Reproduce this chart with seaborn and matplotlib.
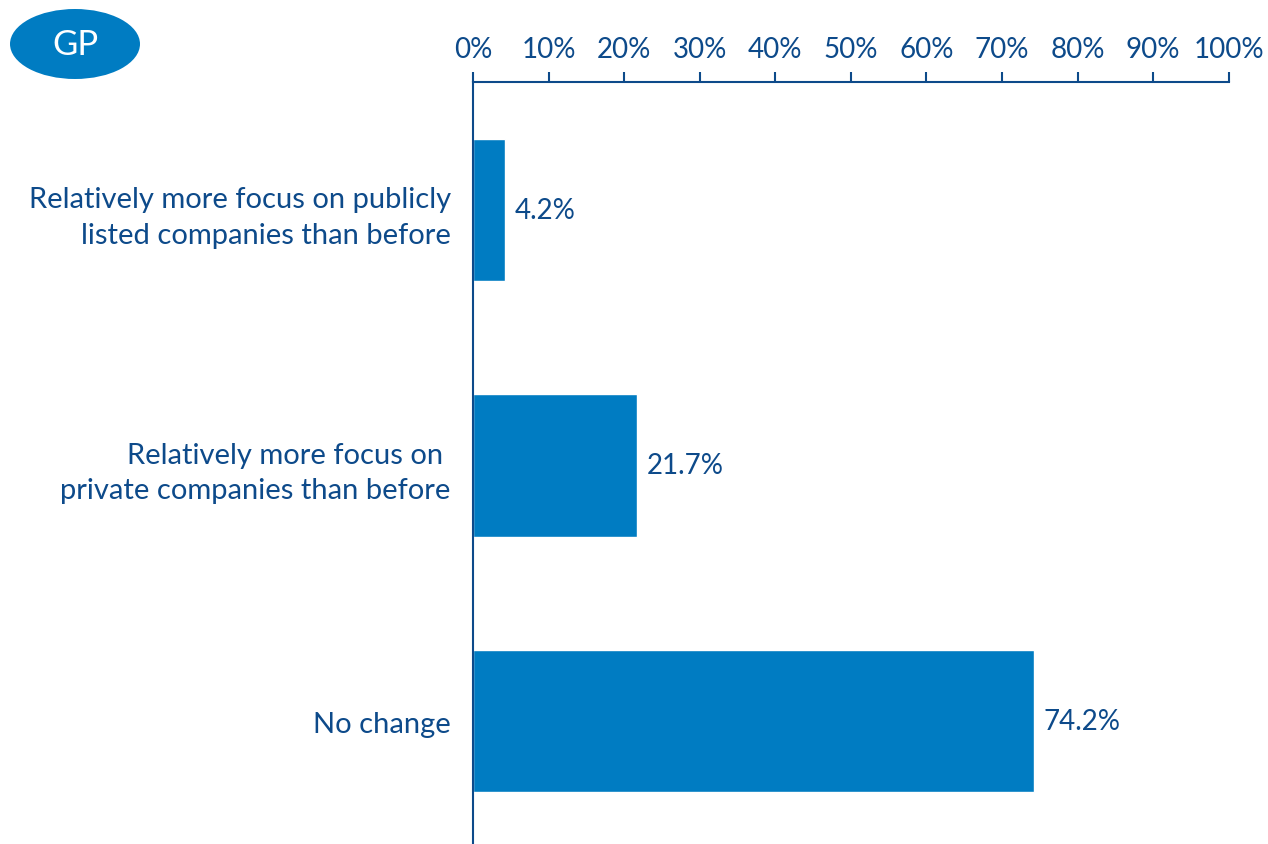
import matplotlib
matplotlib.use("Agg")
import matplotlib.pyplot as plt
import seaborn as sns
import pandas as pd
from matplotlib.patches import Ellipse

# Datos del grafico
categorias = ["Relatively more focus on publicly\nlisted companies than before",
              "Relatively more focus on \nprivate companies than before",
              "No change"]
valores = [4.2, 21.7, 74.2]
ticks_x = [0, 10, 20, 30, 40, 50, 60, 70, 80, 90, 100]

AZUL_BARRA = "#007CC2"
AZUL_TEXTO = "#0D4A8A"

sns.set_style("white")
plt.rcParams['font.family'] = ['Lato', 'DejaVu Sans']

df = pd.DataFrame({"categoria": categorias, "valor": valores})

fig = plt.figure(figsize=(12.68, 8.45), dpi=100)
ax = fig.add_axes([0.373, 0.0, 0.596, 0.902])

sns.barplot(data=df, x="valor", y="categoria", color=AZUL_BARRA, width=0.556,
            saturation=1, ax=ax, orient="h")

ax.set_xlim(0, 100)
ax.set_ylim(2.48, -0.5)
ax.set_xlabel("")
ax.set_ylabel("")

# Eje x arriba con ticks hacia afuera
ax.xaxis.tick_top()
ax.set_xticks(ticks_x)
ax.set_xticklabels([f"{t}%" for t in ticks_x], fontsize=20, color=AZUL_TEXTO)
ax.tick_params(axis="x", direction="out", length=7, width=1.5, color=AZUL_TEXTO, pad=7)
ax.tick_params(axis="y", length=0, pad=16, labelsize=21, labelcolor=AZUL_TEXTO)
for lab in ax.get_yticklabels():
    lab.set_horizontalalignment("right")
    lab.set_multialignment("right")
    lab.set_linespacing(1.45)

for lado in ["right", "bottom"]:
    ax.spines[lado].set_visible(False)
for lado in ["top", "left"]:
    ax.spines[lado].set_color(AZUL_TEXTO)
    ax.spines[lado].set_linewidth(1.5)

# Etiquetas de valor
ax.bar_label(ax.containers[0], labels=[f"{v:.1f}%" for v in valores], padding=7,
             fontsize=20, color=AZUL_TEXTO)

# Insignia "GP"
fig.patches.append(Ellipse((75 / 1268, 1 - 45 / 845), 130 / 1268, 70 / 845,
                           transform=fig.transFigure, facecolor=AZUL_BARRA,
                           edgecolor="none", figure=fig))
fig.text(75 / 1268, 1 - 45 / 845, "GP", color="white", fontsize=25,
         ha="center", va="center")

fig.savefig("out.png", dpi=100)
